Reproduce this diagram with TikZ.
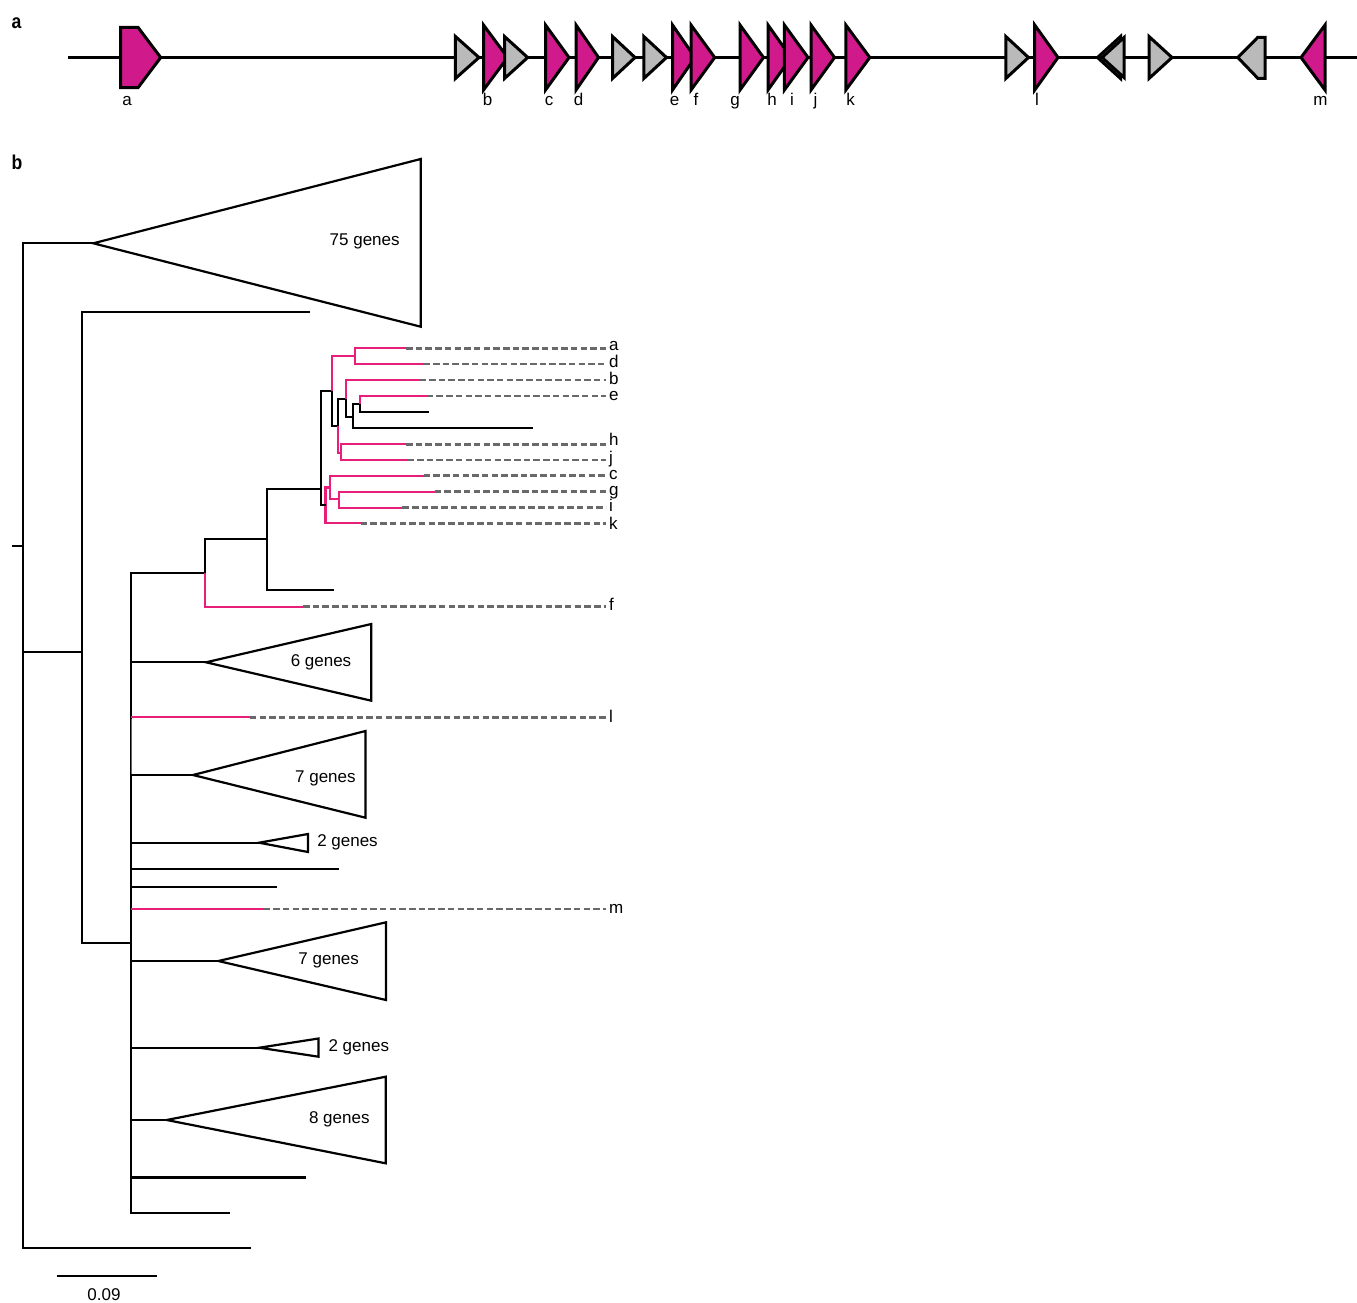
\documentclass[tikz,border=0pt]{standalone}
\usepackage{fontspec}
\setmainfont{Liberation Sans}
\definecolor{gpink}{RGB}{208,26,140}
\definecolor{tpink}{RGB}{232,30,122}
\definecolor{ggray}{RGB}{186,186,186}
\definecolor{dgray}{RGB}{105,105,105}
\tikzset{
  tree/.style={line width=2.2pt, line join=miter},
  ptree/.style={tree, draw=tpink},
  dashline/.style={line width=2.5pt, draw=dgray, dash pattern=on 6.5pt off 3.2pt},
  gene/.style={line width=3pt, line join=miter, draw=black},
  pgene/.style={gene, fill=gpink},
  ggene/.style={gene, fill=ggray},
  lab/.style={font=\fontsize{17}{20}\selectfont, inner sep=0pt},
  panel/.style={font=\fontsize{20}{24}\selectfont\bfseries, inner sep=0pt, anchor=base west, xscale=0.88},
}
\begin{document}
\begin{tikzpicture}[x=1pt,y=-1pt]
\useasboundingbox[fill=white] (0,0) rectangle (1357,1303);

% ---------- panel labels
\node[panel] (pa) at (11.5,28.3) {a};
\node[panel] (pb) at (11.5,169.3) {b};

% ---------- panel a: gene track
\coordinate (trA) at (68,57.5);
\coordinate (trB) at (1357,57.5);
\draw[line width=3.5pt] (trA) -- (trB);

% gene a (pentagon)
\draw[pgene] (120.5,27.3) -- (138,27.3) -- (160.7,57.5) -- (138,87.7) -- (120.5,87.7) -- cycle;
\draw[ggene] (455.4,36.5) -- (479,57.5) -- (455.4,78.5) -- cycle;
\draw[pgene] (483.5,25) -- (507.6,57.5) -- (483.5,90) -- cycle;
\draw[ggene] (504.5,36.5) -- (527.7,57.5) -- (504.5,78.5) -- cycle;
\draw[pgene] (545.5,25) -- (569,57.5) -- (545.5,90) -- cycle;
\draw[pgene] (576,25) -- (598.5,57.5) -- (576,90) -- cycle;
\draw[ggene] (612.5,36.5) -- (635,57.5) -- (612.5,78.5) -- cycle;
\draw[ggene] (643.8,36.5) -- (666.5,57.5) -- (643.8,78.5) -- cycle;
\draw[pgene] (672.5,25) -- (695,57.5) -- (672.5,90) -- cycle;
\draw[pgene] (691,25) -- (714.7,57.5) -- (691,90) -- cycle;
\draw[pgene] (740,25) -- (763.5,57.5) -- (740,90) -- cycle;
\draw[pgene] (768,25) -- (791,57.5) -- (768,90) -- cycle;
\draw[pgene] (784.4,25) -- (808,57.5) -- (784.4,90) -- cycle;
\draw[pgene] (811,25) -- (834.5,57.5) -- (811,90) -- cycle;
\draw[pgene] (845.8,25) -- (869.8,57.5) -- (845.8,90) -- cycle;
\draw[ggene] (1005.8,36.5) -- (1028.5,57.5) -- (1005.8,78.5) -- cycle;
\draw[pgene] (1034.7,25) -- (1058,57.5) -- (1034.7,90) -- cycle;
\draw[ggene] (1120.5,36.5) -- (1097.5,57.5) -- (1120.5,78.5) -- cycle;
\draw[ggene] (1124,37.5) -- (1102,57.5) -- (1124,77.5) -- cycle;
\draw[ggene] (1149,36.5) -- (1172,57.5) -- (1149,78.5) -- cycle;
\draw[ggene] (1265,37.3) -- (1257.8,37.3) -- (1237.8,57.5) -- (1257.8,78.3) -- (1265,78.3) -- cycle;
\draw[pgene] (1325,25) -- (1301,57.5) -- (1325,90) -- cycle;

% gene labels
\foreach \nm/\gx in {a/127,b/487.5,c/549,d/578.5,e/674.5,f/696,g/735,h/772,i/792,j/815.5,k/850.5,l/1037,m/1320.5}{
  \node[lab, anchor=base] (g\nm) at (\gx,106) {\nm};
}

% ---------- panel b: tree
% root
\coordinate (Rs) at (12.3,545.7);
\coordinate (R) at (22.7,545.7);
\coordinate (C75) at (93.3,243.3);
\coordinate (N2) at (82,651.7);
\coordinate (Lroot) at (250.7,1247.7);
\draw[tree] (Rs) -- (R);
\draw[tree] (R) |- (C75);
\draw[tree] (R) |- (N2);
\draw[tree] (R) |- (Lroot);

% N2
\coordinate (L1) at (310,312.3);
\coordinate (N3) at (131,942.7);
\draw[tree] (N2) |- (L1);
\draw[tree] (N2) |- (N3);

% N3 polytomy
\coordinate (N4) at (205,573.3);
\coordinate (C6) at (206,662.3);
\coordinate (pl) at (249.8,717.3);
\coordinate (C7a) at (193,775);
\coordinate (C2a) at (259,842.7);
\coordinate (L2) at (339,869.3);
\coordinate (L3) at (276.6,887);
\coordinate (pm) at (263.5,909);
\coordinate (C7b) at (218.3,961);
\coordinate (C2b) at (259.3,1047.7);
\coordinate (C8) at (166.7,1120);
\coordinate (L4) at (306,1177.5);
\coordinate (L5) at (230,1212.7);
\draw[ptree] (N3) |- (pl);
\draw[ptree] (N3) |- (pm);
\foreach \c in {N4,C6,C7a,C2a,L2,L3,C7b,C2b,C8,L4,L5}{
  \draw[tree] (N3) |- (\c);
}
\coordinate (pA) at (131.9,718.5);
\coordinate (pB) at (131.9,774);
\draw[tpink, line width=1pt] (pA) -- (pB);
% redraw pink horizontals on top
\draw[ptree] (N3 |- pl) -- (pl);
\draw[ptree] (N3 |- pm) -- (pm);

% N4
\coordinate (N5) at (267,539.3);
\coordinate (pf) at (303,606.7);
\draw[tree] (N4) |- (N5);
\draw[ptree] (N4) |- (pf);

% N5
\coordinate (N6) at (320.7,489.3);
\coordinate (L6) at (334,590);
\draw[tree] (N5) |- (N6);
\draw[tree] (N5) |- (L6);

% N6
\coordinate (N7) at (332.3,391);
\coordinate (N8) at (325.5,505);
\draw[tree] (N6) |- (N7);
\draw[tree] (N6) |- (N8);

% N7
\coordinate (AD) at (355,356);
\coordinate (N9) at (338.3,425.7);
\draw[ptree] (N7) |- (AD);
\draw[tree] (N7) |- (N9);
\coordinate (pa) at (406,348.3);
\coordinate (pd) at (423.3,364);
\draw[ptree] (AD) |- (pa);
\draw[ptree] (AD) |- (pd);

% N9
\coordinate (N10) at (345.7,399.3);
\coordinate (HJ) at (340.7,453.3);
\draw[tree] (N9) |- (N10);
\draw[ptree] (N9) |- (HJ);
\coordinate (ph) at (406,444.3);
\coordinate (pj) at (407.3,460);
\draw[ptree] (HJ) |- (ph);
\draw[ptree] (HJ) |- (pj);

% N10
\coordinate (pb) at (419.3,380);
\coordinate (N11) at (353.3,416.7);
\draw[ptree] (N10) |- (pb);
\draw[tree] (N10) |- (N11);

% N11
\coordinate (N12) at (360,404);
\coordinate (L7) at (533.3,428.3);
\draw[tree] (N11) |- (N12);
\draw[tree] (N11) |- (L7);

% N12
\coordinate (pe) at (426.7,396);
\coordinate (L8) at (429.3,412);
\draw[ptree] (N12) |- (pe);
\draw[tree] (N12) |- (L8);

% N8
\coordinate (CGI) at (330,487.5);
\coordinate (pk) at (360.7,523.3);
\draw[ptree] (N8) |- (CGI);
\draw[ptree] (N8) |- (pk);
\coordinate (pc) at (423.7,475.7);
\coordinate (GI) at (339.3,499.3);
\draw[ptree] (CGI) |- (pc);
\draw[ptree] (CGI) |- (GI);
\coordinate (pg) at (434.7,491.7);
\coordinate (pi) at (402.3,507.7);
\draw[ptree] (GI) |- (pg);
\draw[ptree] (GI) |- (pi);
% re-cover black junction
\draw[tree] (N6) |- (N8);

% dashed extensions and labels
\coordinate (dend) at (606,0);
\foreach \p in {pa,pd,pb,pe,ph,pj,pc,pg,pi,pk,pf,pl,pm}{
  \draw[dashline] (\p) -- (\p -| dend);
}
\foreach \nm/\by in {a/350.7,d/367.3,b/384,e/400,h/445.5,j/463,c/479.3,g/495,i/511.7,k/529.5,f/610.7,l/722.7,m/913.5}{
  \node[lab, anchor=base west] (t\nm) at (609,\by) {\nm};
}

% collapsed clades
\draw[tree] (C75) -- (420.7,159) -- (420.7,326.7) -- cycle;
\node[lab] (n75) at (364.7,241.7) {75 genes};
\draw[tree] (C6) -- (371.3,624) -- (371.3,700.7) -- cycle;
\node[lab] (n6) at (321,662) {6 genes};
\draw[tree] (C7a) -- (365.5,731) -- (365.5,817.7) -- cycle;
\node[lab] (n7a) at (325.4,778) {7 genes};
\draw[tree] (C2a) -- (308,834) -- (308,852) -- cycle;
\node[lab] (n2a) at (347.5,842) {2 genes};
\draw[tree] (C7b) -- (386,922.3) -- (386,1000) -- cycle;
\node[lab] (n7b) at (328.7,960) {7 genes};
\draw[tree] (C2b) -- (318.5,1038.5) -- (318.5,1056.7) -- cycle;
\node[lab] (n2b) at (358.8,1047) {2 genes};
\draw[tree] (C8) -- (385.7,1076.7) -- (385.7,1163.3) -- cycle;
\node[lab] (n8) at (339.3,1119) {8 genes};

% scale bar
\coordinate (sb1) at (56.7,1276);
\coordinate (sb2) at (157.3,1276);
\draw[tree] (sb1) -- (sb2);
\node[lab, anchor=base] (sbl) at (104,1300) {0.09};
\end{tikzpicture}
\end{document}
